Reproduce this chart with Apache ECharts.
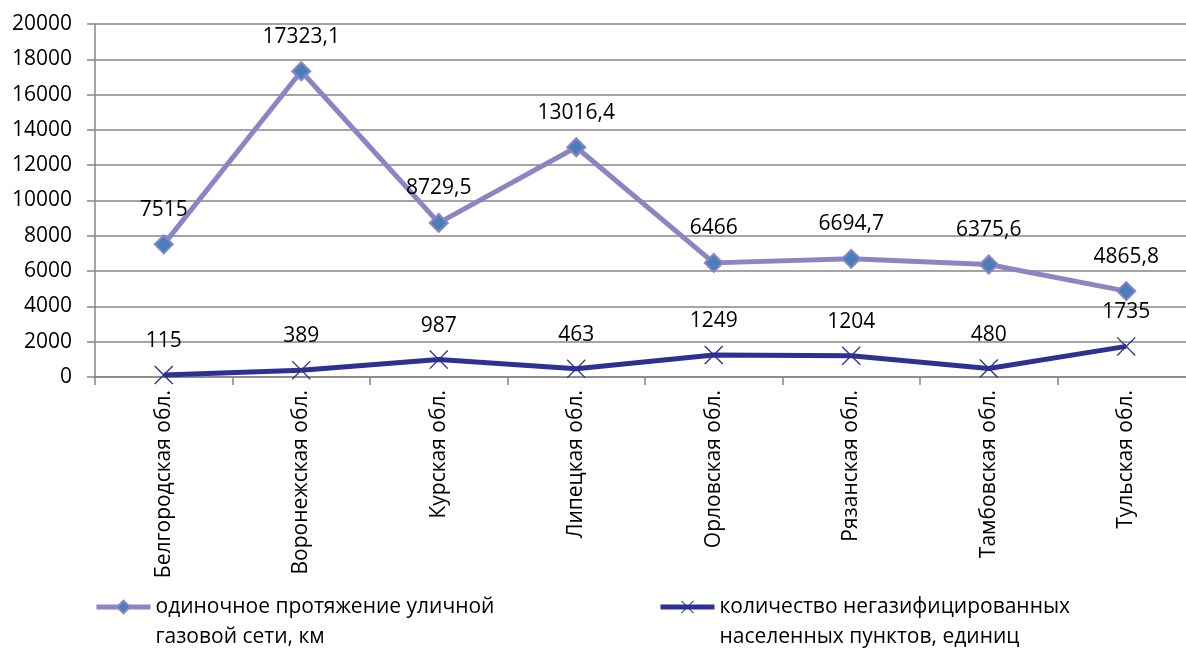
<!DOCTYPE html>
<html>
<head>
<meta charset="utf-8">
<script src="https://cdn.jsdelivr.net/npm/echarts@6/dist/echarts.min.js"></script>
<style>
html,body{margin:0;padding:0;background:#fff;overflow:hidden;width:1186px;height:648px;}
#c{width:1200px;height:680px;}
</style>
</head>
<body>
<div id="c"></div>
<script>
const categories = ['Белгородская обл.','Воронежская обл.','Курская обл.','Липецкая обл.','Орловская обл.','Рязанская обл.','Тамбовская обл.','Тульская обл.'];
const seriesNames = ['одиночное протяжение уличной\nгазовой сети, км','количество негазифицированных\nнаселенных пунктов, единиц'];
const lengthValues = [7515, 17323.1, 8729.5, 13016.4, 6466, 6694.7, 6375.6, 4865.8];
const settlementValues = [115, 389, 987, 463, 1249, 1204, 480, 1735];

const FONT = 'Open Sans';
const FS = 21;
const crossPath = 'path://M0,5 L5,0 L50,45 L95,0 L100,5 L55,50 L100,95 L95,100 L50,55 L5,100 L0,95 L45,50 Z';
const fmt = p => String(p.value).replace('.', ',');

const chart = echarts.init(document.getElementById('c'), null, {renderer:'canvas'});
const legendCommon = {
  top:562, itemWidth:54, itemHeight:16, itemGap:0, padding:0,
  lineStyle:{width:5},
  formatter: name => ' \n' + name,
  textStyle:{fontSize:FS, color:'#000', fontFamily:FONT, lineHeight:30}
};
chart.setOption({
  animation:false,
  backgroundColor:'#fff',
  textStyle:{fontFamily:FONT},
  grid:{left:95, top:24, height:353, width:1100, containLabel:false},
  xAxis:{
    type:'category',
    data:categories,
    boundaryGap:true,
    axisLine:{lineStyle:{color:'#868686', width:1.5}},
    axisTick:{show:true, length:8, lineStyle:{color:'#868686', width:1.5}},
    axisLabel:{rotate:90, margin:13, color:'#000', fontSize:FS, fontFamily:FONT, interval:0}
  },
  yAxis:{
    type:'value',
    min:0, max:20000, interval:2000,
    axisLine:{show:true, lineStyle:{color:'#868686', width:1.5}},
    axisTick:{show:true, length:8, lineStyle:{color:'#868686', width:1.5}},
    splitLine:{lineStyle:{color:'#868686', width:1.5}},
    axisLabel:{margin:23, color:'#000', fontSize:FS, fontFamily:FONT, formatter: v => String(v)}
  },
  legend:[
    Object.assign({data:[seriesNames[0]], left:94}, legendCommon),
    Object.assign({data:[seriesNames[1]], left:658}, legendCommon)
  ],
  series:[
    {
      name:seriesNames[0], type:'line', data:lengthValues,
      symbol:'diamond', symbolSize:18,
      lineStyle:{color:'#8A86C4', width:5},
      itemStyle:{color:'#4A7EBB', borderColor:'#8A86C4', borderWidth:2},
      label:{show:true, position:'top', distance:14, formatter:fmt, color:'#000', fontSize:FS, fontFamily:FONT},
      z:2
    },
    {
      name:seriesNames[1], type:'line', data:settlementValues,
      symbol:crossPath, symbolSize:19,
      lineStyle:{color:'#2E3192', width:5},
      itemStyle:{color:'#2E3192', borderWidth:0},
      label:{show:true, position:'top', distance:14, formatter:fmt, color:'#000', fontSize:FS, fontFamily:FONT},
      z:3
    }
  ]
});
</script>
</body>
</html>
